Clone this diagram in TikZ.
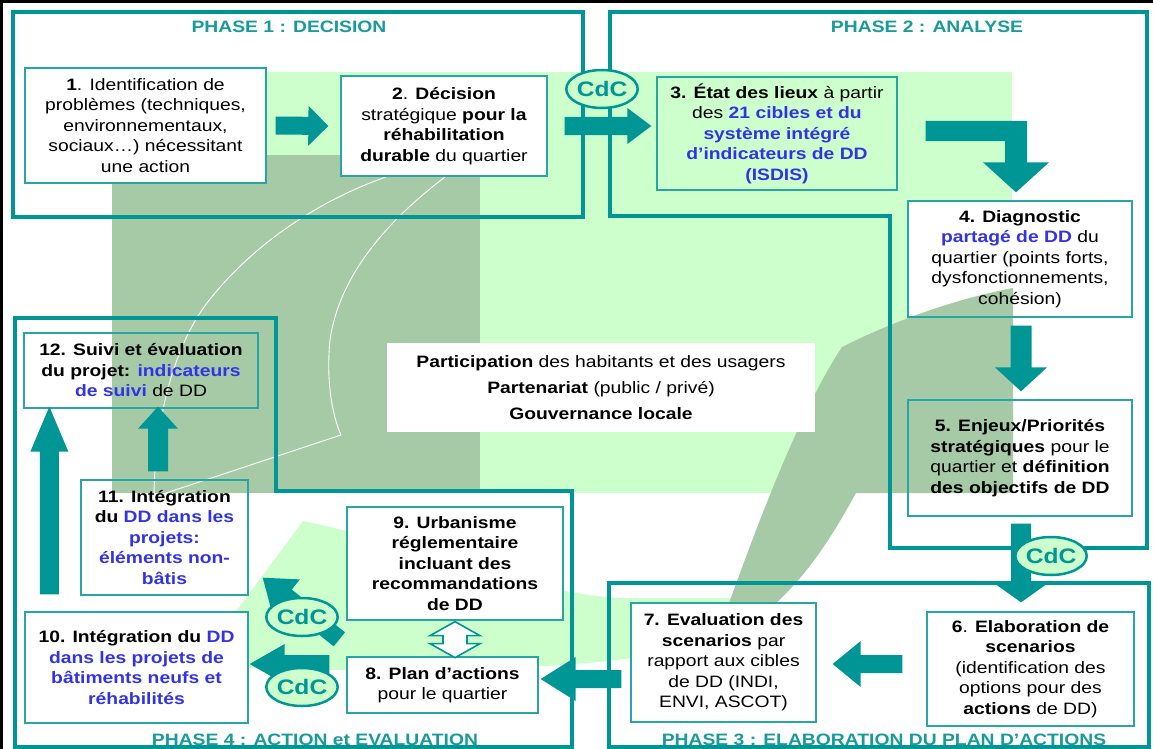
\documentclass[tikz,border=0pt]{standalone}
\usepackage{fontspec}
\setmainfont{Liberation Sans}[FakeStretch=1.17]
\usetikzlibrary{calc,shapes.geometric}
\definecolor{teal0}{RGB}{0,150,150}
\definecolor{tealtxt}{RGB}{25,155,155}
\definecolor{lgreen}{RGB}{204,255,204}
\definecolor{dgreen}{RGB}{166,202,166}
\definecolor{dblue}{RGB}{51,51,230}
\definecolor{boxline}{RGB}{40,165,165}
\newcommand{\bodyfont}{\fontsize{16.5}{20.5}\selectfont}
\newcommand{\bl}[1]{\textcolor{dblue}{\textbf{#1}}}
\newcommand{\barrow}[5]{%
  \path let \p1=(#1), \p2=(#2) in \pgfextra{%
    \pgfmathsetmacro\tmpang{atan2(\y2-\y1,\x2-\x1)}%
    \pgfmathsetmacro\tmplen{veclen(\x2-\x1,\y2-\y1)}%
    \xdef\bang{\tmpang}\xdef\blen{\tmplen}};
  \fill[teal0,shift={(#1)},rotate=\bang] (0pt,#3pt) -- ({\blen pt-#5pt},#3pt) -- ({\blen pt-#5pt},#4pt) -- (\blen pt,0pt) -- ({\blen pt-#5pt},-#4pt) -- ({\blen pt-#5pt},-#3pt) -- (0pt,-#3pt) -- cycle;}
\tikzset{
  box/.style={draw=boxline, line width=1.3pt, inner sep=0pt, align=center, font=\bodyfont},
  frame/.style={draw=teal0, line width=4pt, line join=miter},
  ttl/.style={font=\fontsize{16.5}{20}\selectfont\bfseries, text=tealtxt, inner sep=0pt},
  cdc/.style={ellipse, draw=teal0, line width=2.5pt, fill=lgreen, minimum width=68pt, minimum height=38pt, inner sep=0pt, font=\fontsize{21}{21}\selectfont\bfseries, text=teal0},
}
\begin{document}
\begin{tikzpicture}[x=1pt,y=-1pt]
\useasboundingbox (0,0) rectangle (1153,749);

% background
\fill[white] (0,0) rectangle (1153,749);
\fill[lgreen] (112,72) rectangle (1012,493);
\fill[dgreen] (112,155) rectangle (480,493);
\fill[lgreen] (200,660) -- (303,521) .. controls (420,545) and (520,592) .. (620,598) -- (735,598) -- (745,628) .. controls (700,650) and (620,664) .. (520,667) -- (340,670) .. controls (280,672) and (230,668) .. (200,660) -- cycle;
\draw[white, line width=0.9pt] (386,177) .. controls (320,200) and (250,245) .. (204,307) .. controls (170,355) and (154,430) .. (154,500);
\draw[white, line width=0.9pt] (445,177) .. controls (395,215) and (340,270) .. (330,340) .. controls (326,380) and (332,415) .. (341,435) -- (154,497);
\fill[white] (908,201) rectangle (1132,317);
\fill[white] (908,400) rectangle (1132,516);
\fill[dgreen] (842,347) .. controls (900,318) and (960,298) .. (1013,288) -- (1013,493) -- (856,493) .. controls (830,540) and (800,590) .. (745,628) -- (723,620) .. controls (755,530) and (800,410) .. (842,347) -- cycle;

% phase frames
\draw[frame] (13,12) rectangle (583,217);
\draw[frame] (610,12) -- (1147,12) -- (1147,548) -- (890,548) -- (890,216) -- (610,216) -- cycle;
\draw[frame] (609,583) rectangle (1149,747);
\draw[frame] (15,318) -- (276,318) -- (276,491) -- (572,491) -- (572,747) -- (15,747) -- cycle;
\draw[line width=3pt] (1.5,749) -- (1.5,1.5) -- (1153,1.5);

% titles
\node[ttl] (t1) at (289,27) {PHASE 1 : DECISION};
\node[ttl] (t2) at (927,27) {PHASE 2 : ANALYSE};
\node[ttl] (t3) at (884,740) {PHASE 3 : ELABORATION DU PLAN D’ACTIONS};
\node[ttl] (t4) at (315,740) {PHASE 4 : ACTION et EVALUATION};

% boxes
\node[box, fill=white, minimum width=241pt, minimum height=115pt] (n1) at (145.5,125.5)
 {\textbf{1}. Identification de\\problèmes (techniques,\\environnementaux,\\sociaux…) nécessitant\\une action};
\node[box, fill=white, minimum width=206pt, minimum height=100pt] (n2) at (444,126)
 {\textbf{2}. \textbf{Décision}\\stratégique \textbf{pour la}\\\textbf{réhabilitation}\\\textbf{durable} du quartier};
\node[box, minimum width=240pt, minimum height=113pt] (n3) at (777,133.5)
 {\textbf{3. État des lieux} à partir\\des \bl{21 cibles et du}\\\bl{système intégré}\\\bl{d’indicateurs de DD}\\\bl{(ISDIS)}};
\node[box, minimum width=224pt, minimum height=116pt] (n4) at (1020,259)
 {\textbf{4. Diagnostic}\\\bl{partagé de DD} du\\quartier (points forts,\\dysfonctionnements,\\cohésion)};
\node[box, minimum width=224pt, minimum height=116pt] (n5) at (1020,458)
 {\textbf{5. Enjeux/Priorités}\\\textbf{stratégiques} pour le\\quartier et \textbf{définition}\\\textbf{des objectifs de DD}};
\node[box, fill=white, minimum width=207pt, minimum height=114pt] (n6) at (1030.5,669)
 {\textbf{6}. \textbf{Elaboration de}\\\textbf{scenarios}\\(identification des\\options pour des\\\textbf{actions} de DD)};
\node[box, fill=white, minimum width=185pt, minimum height=119pt] (n7) at (723.5,662.5)
 {\textbf{7. Evaluation des}\\\textbf{scenarios} par\\rapport aux cibles\\de DD (INDI,\\ENVI, ASCOT)};
\node[box, fill=white, minimum width=191pt, minimum height=56pt] (n8) at (442.5,685)
 {\textbf{8. Plan d’actions}\\pour le quartier};
\node[box, fill=white, minimum width=216pt, minimum height=113pt] (n9) at (455,563.5)
 {\textbf{9. Urbanisme}\\\textbf{réglementaire}\\\textbf{incluant des}\\\textbf{recommandations}\\\textbf{de DD}};
\node[box, fill=white, minimum width=223pt, minimum height=111pt] (n10) at (136.5,667.5)
 {\textbf{10. Intégration du} \bl{DD}\\\bl{dans les projets de}\\\bl{bâtiments neufs et}\\\bl{réhabilités}};
\node[box, minimum width=167pt, minimum height=115pt] (n11) at (164.5,537.5)
 {\textbf{11. Intégration}\\\textbf{du} \bl{DD dans les}\\\bl{projets:}\\\bl{éléments non-}\\\bl{bâtis}};
\node[box, minimum width=234pt, minimum height=75pt] (n12) at (141,370.5)
 {\textbf{12. Suivi et évaluation}\\\textbf{du projet:} \bl{indicateurs}\\\bl{de suivi} de DD};
\node[fill=white, inner sep=0pt, minimum width=428pt, minimum height=89pt, align=center, font=\fontsize{16.5}{26}\selectfont] (nc) at (601,387.5)
 {\textbf{Participation} des habitants et des usagers\\\textbf{Partenariat} (public / privé)\\\textbf{Gouvernance locale}};

% arrows
\barrow{$(n1.east)+(9,0)$}{$(n2.west)+(-12,0)$}{9}{20}{20}
\barrow{$(n2.east)+(17,0)$}{$(n3.west |- n2.east)+(-5,0)$}{9}{18}{24}
\coordinate (a34s) at ($(n3.east)+(28,-2.5)$);
\coordinate (a34t) at ($(n4.north)+(-4,-8)$);
\fill[teal0] ($(a34s)+(0,-10)$) -- ($(a34t |- a34s)+(11,-10)$) -- ($(a34t)+(11,-30)$) -- ($(a34t)+(33,-30)$) -- (a34t) -- ($(a34t)+(-33,-30)$) -- ($(a34t)+(-11,-30)$) -- ($(a34t |- a34s)+(-11,10)$) -- ($(a34s)+(0,10)$) -- cycle;
\barrow{$(n4.south)+(1,8)$}{$(n5.north)+(1,-8)$}{10.5}{26}{24}
\barrow{$(n5.south)+(1,7)$}{$(n5.south |- n6.north)+(1,-9)$}{10}{28}{20}
\barrow{$(n6.west)+(-24,-5)$}{$(n7.east |- n6.west)+(16,-5)$}{9}{23}{28}
\barrow{$(n7.west)+(-9,16.5)$}{$(n8.east)+(2,-6)$}{9}{22}{35}
\barrow{$(n8.west)+(-17,-21)$}{$(n10.east)+(1,-3.5)$}{9}{20}{35}
\barrow{$(n8.north west)+(-7,-17)$}{$(n11.south east)+(14,-18)$}{9}{22}{30}
\barrow{$(n11.north)+(-6.5,-8)$}{$(n12.south)+(17,-2)$}{10}{20}{22}
\barrow{$(n10.north west)+(25,-17)$}{$(n12.south west)+(26,-2)$}{9.5}{19}{45}
\coordinate (m98) at ($(n9.south)+(0,19)$);
\draw[teal0, line width=1.6pt, fill=white, line join=miter] ($(m98)+(0,-18)$) -- ++(25,14) -- ++(-13,0) -- ++(0,8) -- ++(13,0) -- ++(-25,14) -- ++(-25,-14) -- ++(13,0) -- ++(0,-8) -- ++(-13,0) -- cycle;

% CdC
\node[cdc] (c1) at (602,89) {CdC};
\node[cdc] (c2) at (1051,556) {CdC};
\node[cdc] (c3) at (302,617) {CdC};
\node[cdc] (c4) at (302,687) {CdC};
\end{tikzpicture}
\end{document}
